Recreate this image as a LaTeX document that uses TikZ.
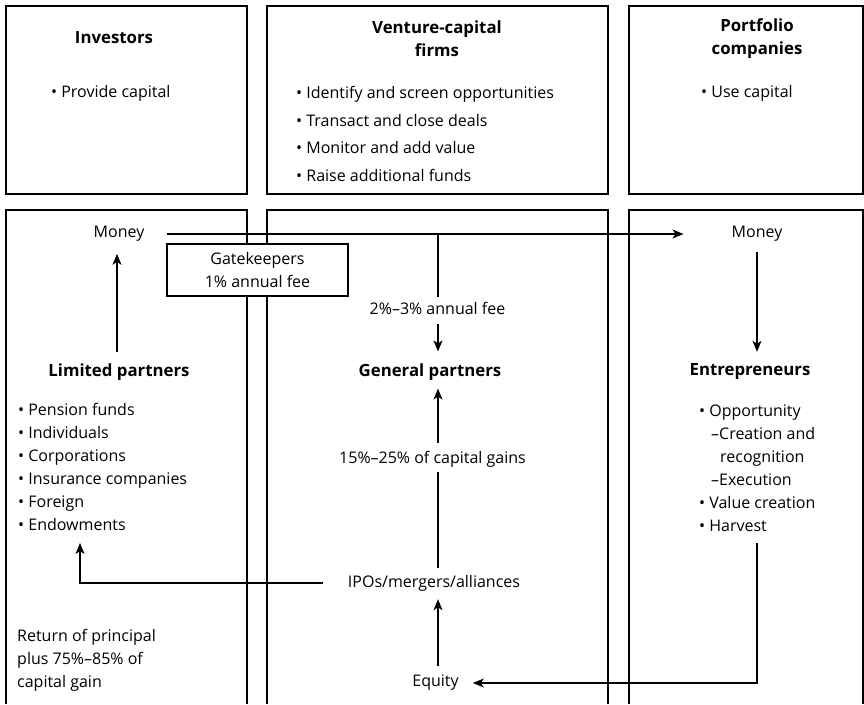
\documentclass[tikz,border=0pt]{standalone}
\usepackage{fontspec}
\setmainfont{Open Sans}
\usetikzlibrary{arrows.meta}

\newcommand{\txtsize}{\fontsize{16}{23}\selectfont}
\newcommand{\topsize}{\fontsize{16}{27.7}\selectfont}
\newcommand{\headsize}{\fontsize{16.8}{23}\selectfont\bfseries}

\begin{document}
\begin{tikzpicture}[x=1pt,y=-1pt,
  panel/.style={line width=1.2pt},
  lbl/.style={font=\txtsize, inner sep=2pt},
  head/.style={font=\headsize, align=center, inner sep=2pt},
  list/.style={font=\txtsize, align=left, inner sep=0pt, anchor=west},
  toplist/.style={font=\topsize, align=left, inner sep=0pt, anchor=west},
  link/.style={line width=1.2pt},
  arr/.style={link, -{Stealth[length=11pt,width=9pt,inset=3pt]}}]
\useasboundingbox (0,0) rectangle (864,704);
\draw[panel] (6,6) rectangle (247,194);
\draw[panel] (267,6) rectangle (608,194);
\draw[panel] (629,6) rectangle (863,194);
\draw[panel] (6,704) -- (6,210) -- (247,210) -- (247,704);
\draw[panel] (267,704) -- (267,210) -- (608,210) -- (608,704);
\draw[panel] (629,704) -- (629,210) -- (863,210) -- (863,704);
\node[head] (inv) at (114,38) {Investors};
\node[toplist] (invl) at (51,93) {• Provide capital};
\node[head] (vcf) at (437,38.5) {Venture-capital\\firms};
\node[toplist] (vcfl) at (296,134) {• Identify and screen opportunities\\• Transact and close deals\\• Monitor and add value\\• Raise additional funds};
\node[head] (pfc) at (757,38.5) {Portfolio\\companies};
\node[toplist] (pfcl) at (701,93) {• Use capital};
\node[lbl] (mL) at (119,234) {Money};
\node[lbl] (mR) at (757,234) {Money};
\node[lbl, draw, fill=white, line width=1.2pt, minimum width=181pt, minimum height=52pt, align=center] (gate) at (257.5,270) {Gatekeepers\\1\% annual fee};
\node[head] (lp) at (119,372) {Limited partners};
\node[list] (lpl) at (18,467) {• Pension funds\\• Individuals\\• Corporations\\• Insurance companies\\• Foreign\\• Endowments};
\node[list] (ret) at (17,660) {Return of principal\\plus 75\%–85\% of\\capital gain};
\node[lbl] (fee) at (437.5,308) {2\%–3\% annual fee};
\node[head] (gp) at (430,372) {General partners};
\node[lbl] (cg) at (432.5,459) {15\%–25\% of capital gains};
\node[lbl] (ipo) at (434,583) {IPOs/mergers/alliances};
\node[lbl] (eq) at (435.5,683) {Equity};
\node[head] (ent) at (750,372) {Entrepreneurs};
\node[list] (entl) at (699,468) {• Opportunity\\\hspace*{12pt}–Creation and\\\hspace*{21pt}recognition\\\hspace*{12pt}–Execution\\• Value creation\\• Harvest};
\coordinate (tee) at (438,234);
\coordinate (endw) at (80,543);
\coordinate (harv) at (757,543);
\draw[arr, shorten <=9pt, shorten >=10pt] (lp.north -| 117,0) -- (mL.south -| 117,0);
\draw[arr, shorten <=20pt, shorten >=46pt] (mL.east) -- (mR.west);
\draw[link, shorten >=3pt] (tee) -- (fee.north -| tee);
\draw[arr, shorten <=8pt, shorten >=10pt] (fee.south -| tee) -- (gp.north -| tee);
\draw[arr, shorten <=6pt, shorten >=6pt] (cg.north -| tee) -- (gp.south -| tee);
\draw[link, shorten <=5pt, shorten >=3pt] (ipo.north -| tee) -- (cg.south -| tee);
\draw[arr, shorten <=7pt, shorten >=6pt] (eq.north -| tee) -- (ipo.south -| tee);
\draw[arr, shorten <=23pt] (ipo.west) -| (endw);
\draw[arr, shorten >=12pt] (harv) |- (eq.east);
\draw[arr, shorten <=8pt, shorten >=10pt] (mR.south) -- (mR.south |- ent.north);
\end{tikzpicture}
\end{document}
